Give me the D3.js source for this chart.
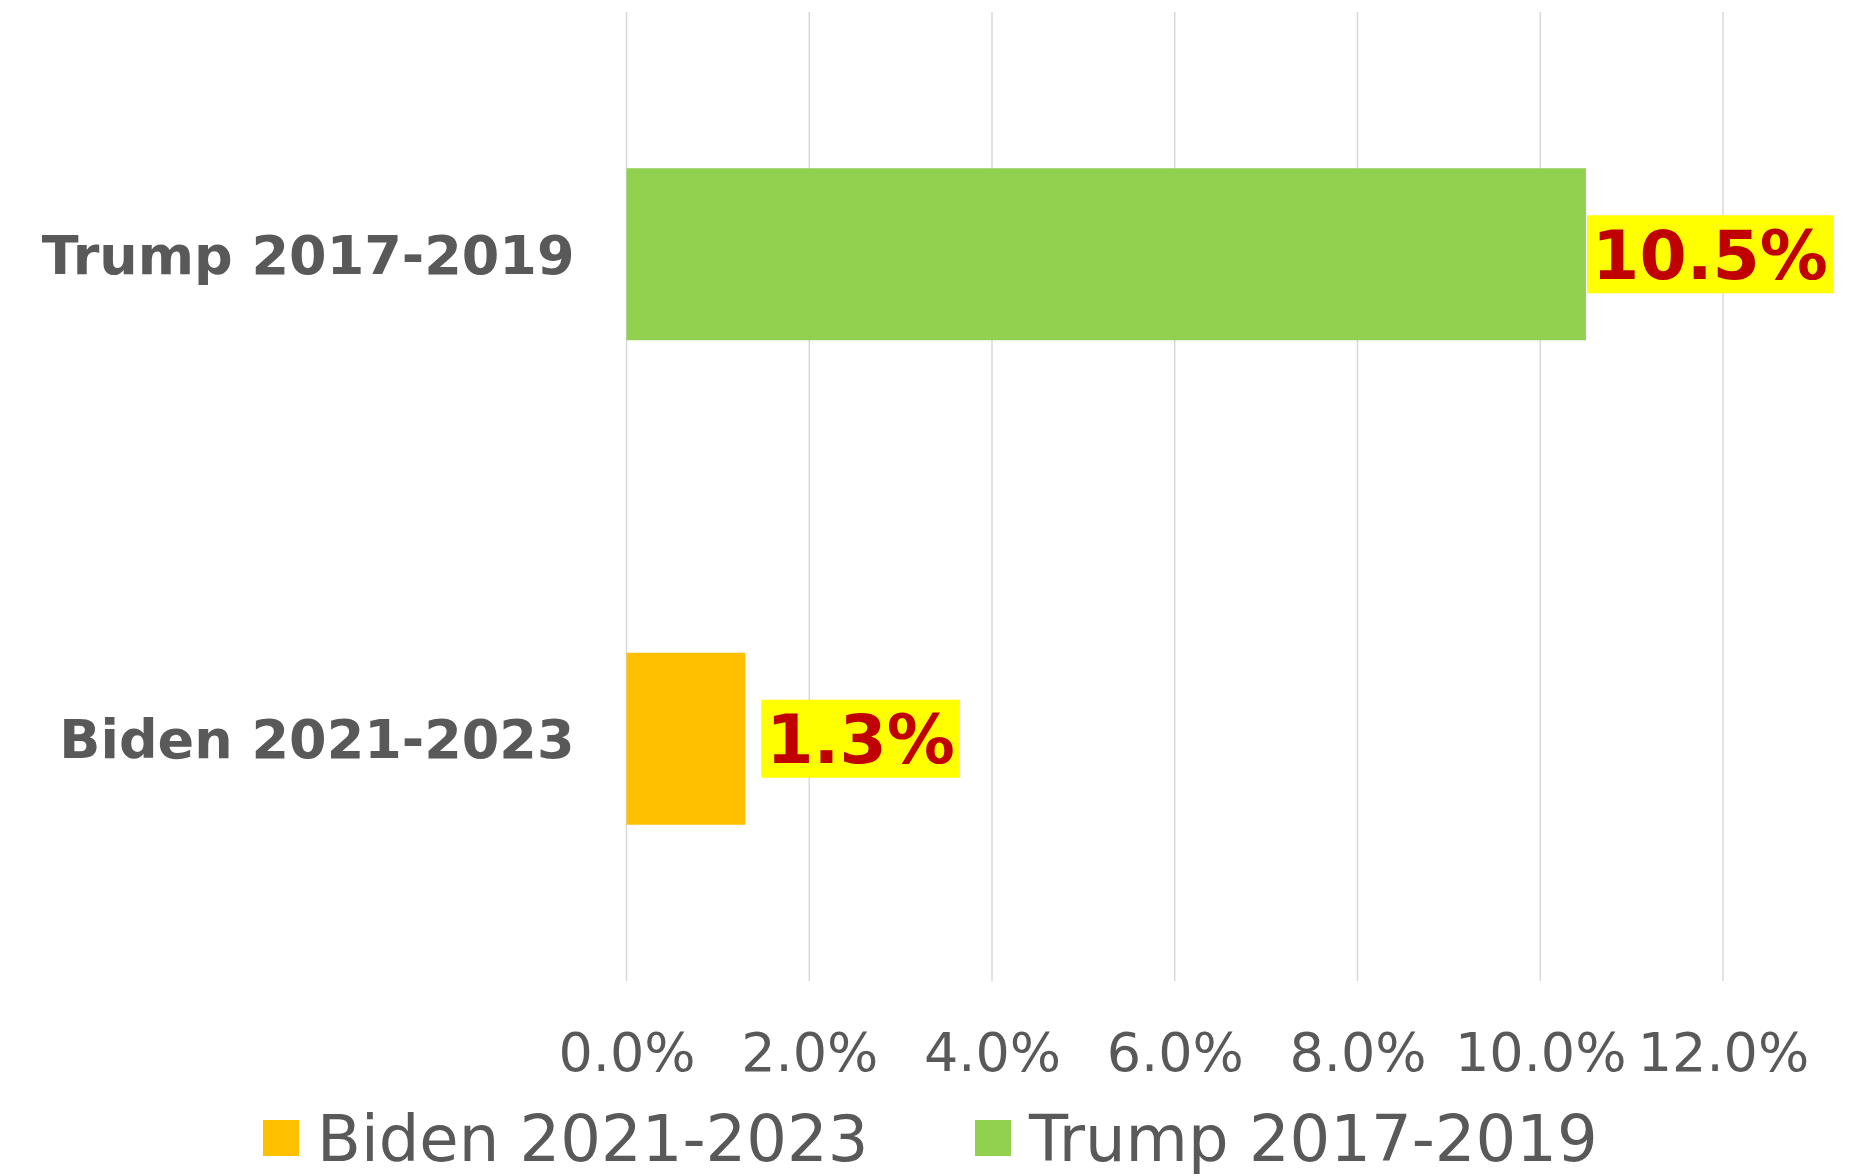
<!DOCTYPE html>
<html>
<head>
<meta charset="utf-8">
<script src="https://cdn.jsdelivr.net/npm/d3@7"></script>
<style>
  html, body { margin: 0; padding: 0; background: #ffffff; }
  svg { display: block; }
</style>
</head>
<body>
<script>
// Categories, top to bottom as drawn on the band axis
const categories = ["Trump 2017-2019", "Biden 2021-2023"];
const values = [10.5, 1.3];
const barColors = ["#92D050", "#FFC000"];

// Legend order
const legendLabels = ["Biden 2021-2023", "Trump 2017-2019"];
const legendColors = ["#FFC000", "#92D050"];

// Axis ticks (percent)
const tickValues = [0, 2, 4, 6, 8, 10, 12];

const W = 1857, H = 1176;
const margin = { top: 12, right: 134, bottom: 195, left: 626.5 };
const textGray = "#595959";
const font = "'DejaVu Sans', Verdana, sans-serif";

const svg = d3.select("body").append("svg")
  .attr("width", W).attr("height", H);

const x = d3.scaleLinear().domain([0, 12])
  .range([margin.left, W - margin.right]);

const y = d3.scaleBand().domain(categories)
  .range([margin.top, H - margin.bottom])
  .paddingInner(0.645).paddingOuter(0.3225);

// Vertical gridlines
svg.append("g").selectAll("line").data(tickValues).join("line")
  .attr("x1", d => x(d)).attr("x2", d => x(d))
  .attr("y1", margin.top).attr("y2", H - margin.bottom)
  .attr("stroke", "#D9D9D9").attr("stroke-width", 1.5);

// Bars
svg.append("g").selectAll("rect").data(categories).join("rect")
  .attr("x", x(0))
  .attr("y", d => y(d))
  .attr("width", (d, i) => x(values[i]) - x(0))
  .attr("height", y.bandwidth())
  .attr("fill", (d, i) => barColors[i]);

// Bottom axis tick labels
const xAxis = d3.axisBottom(x).tickValues(tickValues)
  .tickFormat(d => d3.format(".1f")(d) + "%").tickSize(0).tickPadding(0);
const gx = svg.append("g")
  .attr("transform", `translate(0,${H - margin.bottom})`)
  .call(xAxis);
gx.select(".domain").remove();
gx.selectAll("text")
  .attr("y", 90).attr("dy", null)
  .attr("fill", textGray)
  .style("font-family", font).style("font-size", "54px");

// Category labels
const yAxis = d3.axisLeft(y).tickSize(0).tickPadding(0);
const gy = svg.append("g")
  .attr("transform", `translate(${margin.left - 52},0)`)
  .call(yAxis);
gy.select(".domain").remove();
gy.selectAll("text")
  .attr("x", 0).attr("dy", "0.36em")
  .attr("fill", textGray)
  .style("font-family", font).style("font-size", "54px").style("font-weight", "bold");

// Value labels on yellow boxes
const labelG = svg.append("g");
categories.forEach((c, i) => {
  const g = labelG.append("g");
  const t = g.append("text")
    .text(d3.format(".1f")(values[i]) + "%")
    .attr("fill", "#C00000")
    .attr("dy", "0.36em")
    .style("font-family", font).style("font-size", "68px").style("font-weight", "bold");
  const bw = t.node().getComputedTextLength();
  const padX = 5, boxW = bw + 2 * padX, boxH = 78;
  const left = Math.min(x(values[i]) + 16, W - 24 - boxW);
  const cy = y(c) + y.bandwidth() / 2;
  g.insert("rect", "text")
    .attr("x", left).attr("y", cy - boxH / 2)
    .attr("width", boxW).attr("height", boxH)
    .attr("fill", "#FFFF00");
  t.attr("x", left + padX).attr("y", cy);
});

// Legend
const legend = svg.append("g").attr("transform", "translate(0,1138)");
const legendX = [263, 975];
legendLabels.forEach((l, i) => {
  const g = legend.append("g").attr("transform", `translate(${legendX[i]},0)`);
  g.append("rect").attr("x", 0).attr("y", -18).attr("width", 36).attr("height", 36)
    .attr("fill", legendColors[i]);
  g.append("text").attr("x", 54).attr("y", 0).attr("dy", "0.36em")
    .text(l).attr("fill", textGray)
    .style("font-family", font).style("font-size", "64px");
});
</script>
</body>
</html>
